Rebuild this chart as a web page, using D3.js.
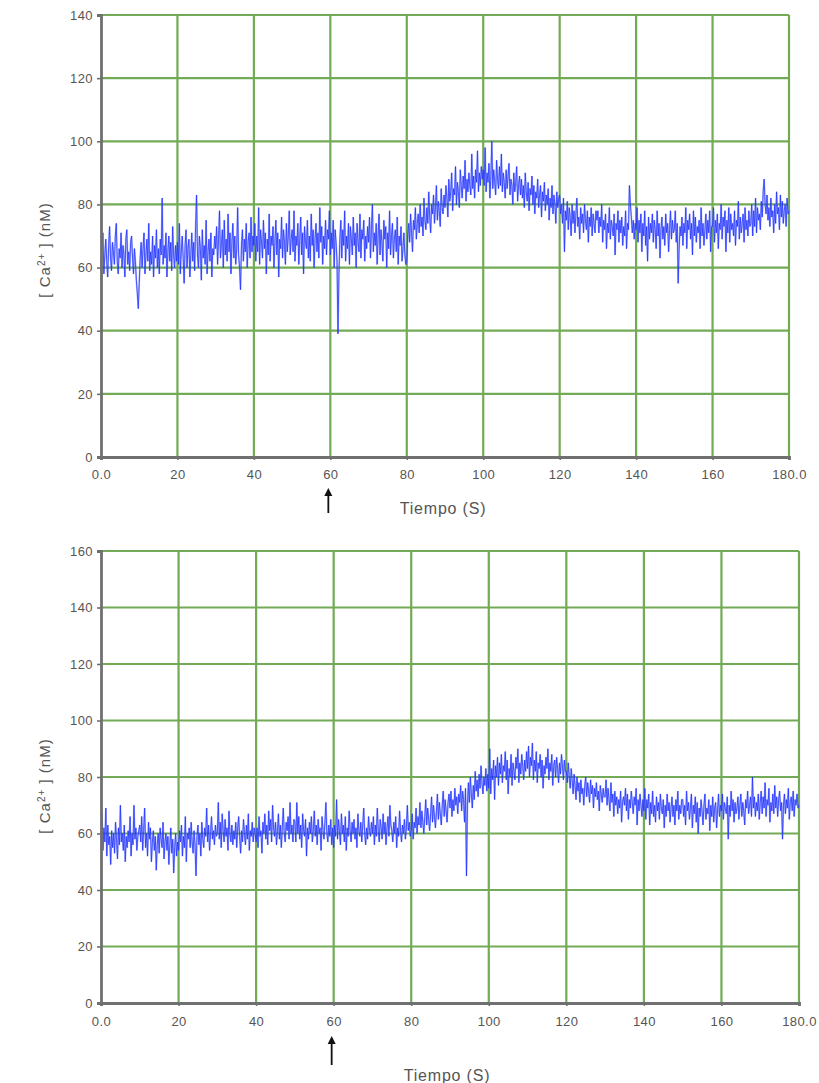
<!DOCTYPE html>
<html>
<head>
<meta charset="utf-8">
<script src="https://cdn.jsdelivr.net/npm/d3@7"></script>
<style>
  body { margin: 0; background: #fff; }
  svg text { font-family: "Liberation Sans", Arial, sans-serif; }
</style>
</head>
<body>
<div id="place"></div>
<script>
// both traces are sampled evenly from 0 to 180 s (about every 0.25 s)
const tStart = 0, tEnd = 180;

// upper trace, [Ca2+] in nM, one row = 10 s
const calciumA = [
  60,66,71,58,64,69,62,57,67,73,63,59,68,65,61,70,74,62,58,66,63,71,60,67,64,57,69,72,61,65,59,68,70,63,58,66,62,56,52,47,
  55,63,68,60,66,71,58,64,69,62,74,59,65,61,70,57,67,63,72,60,66,58,69,64,82,61,67,63,71,57,65,70,62,68,59,73,64,60,67,62,
  68,61,74,58,65,70,63,55,67,72,60,66,69,57,64,71,62,68,59,73,83,64,60,70,66,56,72,63,67,61,75,58,65,69,62,71,57,66,64,70,
  66,73,61,69,78,63,67,72,60,75,64,69,62,77,65,71,58,68,74,63,70,61,66,79,64,60,53,67,72,62,69,65,74,60,68,71,63,76,65,70,
  67,74,62,70,65,79,61,72,68,63,75,66,71,58,69,64,77,62,70,67,73,60,68,75,64,71,57,69,66,76,63,72,68,61,74,65,70,78,64,69,
  72,65,78,62,70,67,74,61,69,76,64,71,58,73,68,66,75,63,70,62,77,67,72,60,69,74,65,71,63,79,68,73,61,70,66,75,64,72,69,78,
  64,71,66,75,60,72,68,62,39,58,69,75,63,72,67,78,62,70,66,74,61,73,69,64,76,67,71,60,74,68,65,77,63,72,69,75,62,70,66,73,
  68,76,63,72,80,65,71,67,74,61,70,77,64,72,68,62,75,69,73,60,71,66,78,64,70,74,63,69,72,65,76,61,70,67,73,62,66,71,64,61,
  62,70,74,68,77,71,65,75,72,79,69,74,77,71,80,73,76,70,82,75,72,79,74,84,76,71,80,77,83,74,79,86,75,81,78,73,85,79,77,83,
  79,86,82,76,88,81,84,90,78,85,83,92,80,87,84,79,91,86,82,89,85,94,81,88,84,90,86,83,96,85,89,82,91,87,97,84,90,86,92,88,
  91,86,98,84,90,87,93,82,89,100,85,91,87,83,94,88,85,92,86,96,84,90,87,82,91,85,89,93,83,88,86,80,90,84,87,92,81,86,89,83,
  88,82,86,79,90,84,81,87,78,85,83,89,80,86,77,84,82,88,79,83,86,76,84,81,87,78,83,80,85,75,82,79,86,77,83,80,74,84,79,82,
  83,77,80,74,82,65,78,75,81,72,79,76,70,80,74,78,71,77,82,73,76,69,79,74,77,71,80,75,72,78,68,76,73,79,70,77,74,71,78,75,
  78,71,76,73,80,68,75,72,77,66,74,71,79,69,75,73,70,77,64,74,72,78,68,75,71,76,67,73,70,78,66,74,72,86,80,76,71,75,69,74,
  72,79,68,75,71,77,65,74,70,78,67,73,62,76,69,74,71,77,68,75,72,66,78,70,74,63,72,76,69,73,67,77,71,74,65,72,78,69,75,71,
  72,78,68,74,55,66,73,70,76,67,74,71,79,66,75,72,77,69,74,64,78,70,76,68,73,71,75,66,79,70,74,67,72,77,69,75,71,78,65,73,
  73,79,68,75,71,77,66,74,72,80,69,76,73,78,65,75,71,79,68,77,72,74,70,78,67,75,73,81,69,76,71,74,77,68,79,72,75,70,78,73,
  74,80,70,78,73,82,71,79,75,77,72,81,76,84,88,80,77,83,75,79,73,82,76,78,71,80,74,84,77,79,72,83,76,81,74,78,80,73,82,77,
  78
];

// lower trace
const calciumB = [
  58,67,54,62,57,69,52,63,56,59,49,61,55,60,53,64,58,51,62,56,70,57,60,54,63,50,59,55,61,57,66,52,60,56,70,58,62,54,59,61,
  63,57,66,54,61,69,55,60,52,64,58,62,50,57,61,54,59,47,56,60,53,62,58,55,64,51,57,60,54,59,49,56,62,53,58,46,55,60,52,57,
  54,61,57,63,52,59,55,66,50,60,58,62,55,64,57,53,61,56,45,59,63,56,60,52,64,58,55,62,59,69,57,63,54,60,66,58,61,56,63,59,
  60,71,58,64,55,67,61,57,65,59,62,54,68,60,57,63,56,61,58,64,55,62,66,59,53,61,57,65,60,56,63,58,67,54,61,59,64,57,62,60,
  57,62,55,66,59,61,53,64,60,67,58,63,56,68,61,65,57,70,62,59,64,56,61,67,58,63,55,62,69,60,57,64,61,66,58,71,60,63,57,65,
  64,57,71,60,66,58,63,55,67,61,59,65,52,62,58,64,60,66,57,61,68,59,63,56,65,60,62,54,66,61,58,64,71,60,57,63,59,65,56,62,
  55,63,59,72,58,65,61,56,67,60,63,57,66,54,62,59,68,61,57,64,60,65,58,62,55,67,61,59,64,57,63,69,60,56,62,58,66,61,59,64,
  60,66,56,63,59,69,61,57,65,62,58,67,60,64,56,62,66,59,70,63,61,57,64,60,66,55,62,59,68,61,57,63,60,65,58,62,70,61,64,59,
  61,67,58,64,62,69,60,66,63,71,62,68,64,60,66,72,63,69,65,61,67,73,64,70,66,62,68,74,65,71,67,63,70,75,66,72,68,64,71,74,
  69,75,66,72,68,76,70,73,67,74,71,77,68,75,72,64,76,45,70,78,71,80,74,69,77,72,82,75,79,73,81,76,84,78,74,80,77,83,75,81,
  76,90,74,83,79,86,72,84,80,87,77,85,81,88,78,84,82,89,79,86,74,83,80,88,77,85,82,79,87,83,90,78,85,81,88,84,79,86,82,89,
  83,91,80,87,84,92,79,86,82,89,78,85,83,88,80,86,76,84,81,87,83,90,79,85,82,88,77,84,86,80,87,83,78,85,81,88,84,79,86,82,
  82,78,85,80,76,83,79,74,81,77,72,80,75,78,71,79,74,76,70,77,80,73,78,75,71,79,74,77,69,76,73,78,72,75,68,77,74,71,76,73,
  73,79,70,76,72,68,78,71,74,66,75,70,73,67,72,69,75,64,71,73,70,76,68,74,65,72,69,75,71,67,73,70,76,63,72,68,74,70,66,72,
  68,76,65,72,69,74,63,71,67,75,66,70,64,73,68,71,65,74,69,67,72,62,70,66,74,68,71,64,69,73,66,70,63,72,68,75,65,70,67,72,
  72,66,70,63,75,68,71,65,69,74,62,70,67,73,64,71,60,69,66,72,68,63,70,74,65,69,67,72,61,70,66,73,64,69,71,62,68,74,66,70,
  68,74,65,71,69,67,73,58,70,66,75,68,72,64,71,67,69,73,65,70,74,66,71,68,63,72,69,75,67,70,73,66,80,69,73,66,71,68,74,65,
  71,75,67,73,69,78,66,72,70,76,64,71,68,74,67,77,69,73,66,72,75,68,71,58,70,74,67,72,69,76,65,71,73,68,75,66,72,70,74,69,
  70
];

const xTicks = [0, 20, 40, 60, 80, 100, 120, 140, 160, 180];
const yTicksA = [0, 20, 40, 60, 80, 100, 120, 140];
const yTicksB = [0, 20, 40, 60, 80, 100, 120, 140, 160];
const arrowAt = 60;            // stimulus time
const xTitle = "Tiempo (S)";

const svg = d3.select("#place").append("svg")
    .attr("width", 819)
    .attr("height", 1083);

function panel(values, yTicks, box) {
  const dt = (tEnd - tStart) / (values.length - 1);
  const pts = values.map((v, i) => [tStart + i * dt, v]);

  const x = d3.scaleLinear().domain([tStart, tEnd]).range([box.left, box.right]);
  const y = d3.scaleLinear().domain([0, d3.max(yTicks)]).range([box.bottom, box.top]);

  const g = svg.append("g");

  // green grid
  g.append("g").selectAll("line")
    .data(yTicks.slice(1))
    .enter().append("line")
      .attr("x1", box.left).attr("x2", box.right)
      .attr("y1", d => y(d)).attr("y2", d => y(d))
      .style("stroke", "#72aa55").style("stroke-width", 2.2);
  g.append("g").selectAll("line")
    .data(xTicks.slice(1))
    .enter().append("line")
      .attr("x1", d => x(d)).attr("x2", d => x(d))
      .attr("y1", box.top).attr("y2", box.bottom)
      .style("stroke", "#72aa55").style("stroke-width", 2.2);

  // trace: a soft wider stroke under a thin darker one, like the blurred original
  const line = d3.line().x(d => x(d[0])).y(d => y(d[1]));
  g.append("path")
    .datum(pts)
    .attr("d", line)
    .style("fill", "none")
    .style("stroke", "#6070ff")
    .style("stroke-width", 1.8)
    .style("stroke-opacity", 0.45);
  g.append("path")
    .datum(pts)
    .attr("d", line)
    .style("fill", "none")
    .style("stroke", "#1f30ff")
    .style("stroke-width", 0.9)
    .style("stroke-opacity", 0.85);

  // axes
  const yAxis = g.append("g")
    .attr("transform", "translate(" + box.left + ",0)")
    .call(d3.axisLeft(y).tickValues(yTicks).tickSize(4).tickPadding(4).tickFormat(d3.format("d")));
  const xAxis = g.append("g")
    .attr("transform", "translate(0," + box.bottom + ")")
    .call(d3.axisBottom(x).tickValues(xTicks).tickSize(3).tickPadding(box.xPad)
      .tickFormat(d => (d === 0 || d === 180) ? d.toFixed(1) : d));

  [yAxis, xAxis].forEach(a => {
    a.select(".domain").style("stroke", "#707070").style("stroke-width", 2.8);
    a.selectAll(".tick line").style("stroke", "#707070").style("stroke-width", 1.6);
    a.selectAll("text").style("font-size", "13px").style("letter-spacing", "0.4px").style("fill", "#555");
  });

  // y title
  const yt = g.append("text")
    .attr("transform", "translate(" + box.yTitleX + "," + box.yTitleY + ") rotate(-90)")
    .attr("text-anchor", "middle")
    .style("font-size", "15px").style("letter-spacing", "1px").style("fill", "#555");
  yt.append("tspan").text("[ Ca");
  yt.append("tspan").text("2+").attr("dy", -5).style("font-size", "10px");
  yt.append("tspan").text(" ] (nM)").attr("dy", 5);

  // x title
  g.append("text")
    .attr("x", box.xTitleX)
    .attr("y", box.bottom + box.xTitleDy)
    .attr("text-anchor", "middle")
    .style("font-size", "16px").style("letter-spacing", "0.8px").style("fill", "#555")
    .text(xTitle);

  // stimulus arrow
  const ax = x(arrowAt) - 2;
  g.append("line")
    .attr("x1", ax).attr("x2", ax)
    .attr("y1", box.bottom + box.arrowY0 + 5).attr("y2", box.bottom + box.arrowY1)
    .style("stroke", "#111").style("stroke-width", 1.8);
  g.append("path")
    .attr("d", "M" + (ax - 4) + "," + (box.bottom + box.arrowY0 + 8) +
               "L" + ax + "," + (box.bottom + box.arrowY0) +
               "L" + (ax + 4) + "," + (box.bottom + box.arrowY0 + 8) + "Z")
    .style("fill", "#111");
}

panel(calciumA, yTicksA, { left: 101, right: 789, top: 15, bottom: 457, xPad: 10,
  yTitleX: 50, yTitleY: 250, xTitleX: 443, xTitleDy: 57, arrowY0: 31, arrowY1: 56 });
panel(calciumB, yTicksB, { left: 101, right: 799, top: 551, bottom: 1003, xPad: 11,
  yTitleX: 50, yTitleY: 786, xTitleX: 447, xTitleDy: 78, arrowY0: 33, arrowY1: 62 });
</script>
</body>
</html>
